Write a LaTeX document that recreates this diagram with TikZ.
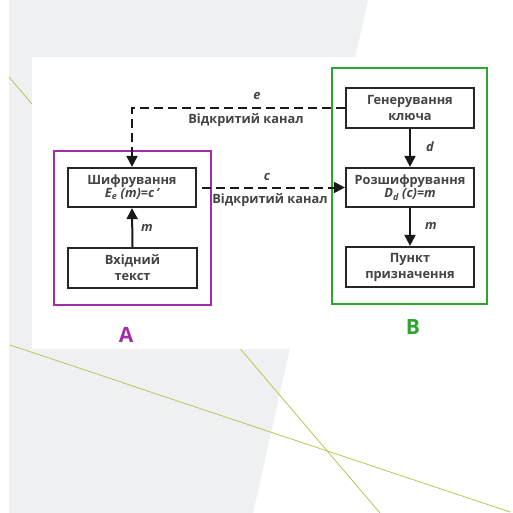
\documentclass[tikz,border=0pt]{standalone}
\usepackage{fontspec}
\setmainfont{Open Sans}
\usetikzlibrary{arrows.meta}
\definecolor{bggray}{HTML}{EFF0F2}
\definecolor{olive}{HTML}{BCC452}
\definecolor{ink}{HTML}{444444}
\definecolor{purp}{HTML}{A32CAA}
\definecolor{grn}{HTML}{2EA52E}
\tikzset{
  stepbox/.style={draw=black!85, line width=2.2pt, minimum width=128pt, minimum height=39pt,
    align=center, font=\fontsize{12.8}{16}\selectfont\bfseries, text=ink, inner sep=1pt},
  frame/.style={line width=1.8pt, inner sep=0pt},
  flow/.style={line width=2pt, draw=black!90, -{Triangle[length=11pt,width=11pt]}},
  channel/.style={flow, dash pattern=on 9pt off 5pt},
  lbl/.style={font=\fontsize{12.8}{14}\selectfont\bfseries\itshape, text=ink},
  chan/.style={font=\fontsize{12.8}{14}\selectfont\bfseries, text=ink},
  party/.style={font=\fontsize{21}{24}\selectfont\bfseries}
}
\begin{document}
\begin{tikzpicture}[x=1pt,y=-1pt]
\useasboundingbox (0,0) rectangle (512,513);
% slide background
\fill[white] (0,0) rectangle (512,513);
\fill[bggray] (9,0) -- (368,0) -- (253,513) -- (9,513) -- cycle;
\draw[olive, line width=0.8pt] (9,77) -- (380,513);
\draw[olive, line width=0.8pt] (10,345) -- (510,512);
% white panel
\fill[white] (32,57) rectangle (492,349);
% party frames
\node[frame, draw=purp, minimum width=157pt, minimum height=154pt] (boxA) at (132.5,228) {};
\node[frame, draw=grn, minimum width=155pt, minimum height=236pt] (boxB) at (409.5,186) {};
\node[party, text=purp] (labA) at (126,335) {A};
\node[party, text=grn] (labB) at (413,327) {B};
% blocks
\node[stepbox] (enc) at (132,187.5) {Шифрування\\[-3pt]{\itshape E\textsubscript{e} (m)=c\,'}};
\node[stepbox, minimum width=129pt, minimum height=40pt] (src) at (132.5,268) {Вхідний\\текст};
\node[stepbox, minimum height=40pt] (gen) at (410,108) {Генерування\\ключа};
\node[stepbox] (dec) at (410,187.5) {Розшифрування\\[-3pt]{\itshape D\textsubscript{d} (c)=m}};
\node[stepbox, minimum height=40pt] (dest) at (410,267) {Пункт\\призначення};
% connectors
\draw[channel] (gen.west) -| (enc.north);
\draw[channel, shorten <=5pt] (enc.east) -- (dec.west);
\draw[flow] (src.north) -- (enc.south);
\draw[flow] (gen.south) -- (dec.north);
\draw[flow] (dec.south) -- (dest.north);
% connector labels
\node[lbl] (le) at (257,96) {e};
\node[chan] (ch1) at (246,120) {Відкритий канал};
\node[lbl] (lc) at (267,177) {c};
\node[chan] (ch2) at (270,200) {Відкритий канал};
\node[lbl] (lm1) at (147,228) {m};
\node[lbl] (ld) at (430,147) {d};
\node[lbl] (lm2) at (431,226) {m};
\end{tikzpicture}
\end{document}
